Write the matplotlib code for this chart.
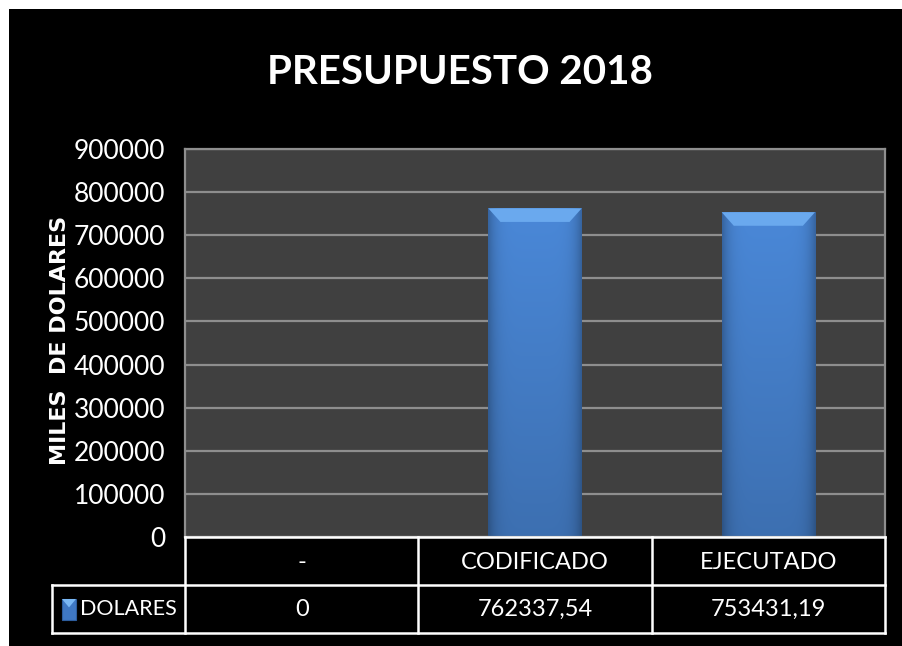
import numpy as np
import matplotlib
matplotlib.use("Agg")
import matplotlib.pyplot as plt
from matplotlib.patches import Rectangle, Polygon
from matplotlib.lines import Line2D

# data
categories = ["-", "CODIFICADO", "EJECUTADO"]
values = [0, 762337.54, 753431.19]
series_name = "DOLARES"
title = "PRESUPUESTO 2018"
ylabel = "MILES  DE DOLARES"
yticks = [0, 100000, 200000, 300000, 400000, 500000, 600000, 700000, 800000, 900000]

plt.rcParams['font.family'] = ['Lato', 'DejaVu Sans']

W, H = 903, 646
fig = plt.figure(figsize=(W / 100, H / 100), dpi=100, facecolor="white")

# black chart area
fig.patches.append(Rectangle((9 / W, 0), 1 - 9 / W, (H - 9) / H,
                             transform=fig.transFigure, facecolor="black",
                             edgecolor="none", zorder=-5))

ax = fig.add_axes([185 / W, (H - 537) / H, 700 / W, 388 / H], zorder=2)
ax.set_facecolor("#404040")
ax.set_xlim(-0.5, len(categories) - 0.5)
ax.set_ylim(0, 900000)
ax.set_yticks(yticks)
ax.set_yticklabels([str(t) for t in yticks])
ax.set_xticks([])
ax.tick_params(axis="y", length=0, pad=14, labelsize=19, labelcolor="white")
ax.grid(axis="y", color="#8e8e8e", lw=1.6)
ax.set_axisbelow(True)
for s in ax.spines.values():
    s.set_color("#8e8e8e")
    s.set_linewidth(1.6)

# bars with shaded fill and a light top bevel
bw = 0.4
bars = ax.bar(range(len(categories)), values, width=bw, color="none", zorder=2)
nx, ny = 60, 200
xs = np.linspace(-1, 1, nx)
ys = np.linspace(1, 0, ny)
side = 1 - 0.25 * np.abs(xs) ** 6
vert = 0.82 + 0.18 * ys
top_c = np.array([74, 136, 216]) / 255
shade = (vert[:, None, None] * side[None, :, None]) * top_c[None, None, :]
for b in bars:
    x0, y0, w, h = b.get_x(), b.get_y(), b.get_width(), b.get_height()
    if h <= 0:
        continue
    ax.imshow(np.clip(shade, 0, 1), extent=(x0, x0 + w, y0, y0 + h),
              aspect="auto", zorder=2, interpolation="bilinear")
    bev_x = w * 0.13
    bev_y = 900000 * 0.035
    ax.add_patch(Polygon([(x0, y0 + h), (x0 + w, y0 + h),
                          (x0 + w - bev_x, y0 + h - bev_y),
                          (x0 + bev_x, y0 + h - bev_y)],
                         closed=True, facecolor="#6aa9ee", edgecolor="none",
                         zorder=3))
ax.set_xlim(-0.5, len(categories) - 0.5)
ax.set_ylim(0, 900000)

# title and y label
fig.text(460 / W, (H - 73) / H, title, color="white", fontsize=29,
         fontweight="bold", ha="center", va="center")
fig.text(60 / W, (H - 340) / H, ylabel, color="white", fontsize=16,
         fontweight="bold", ha="center", va="center", rotation=90,
         family="DejaVu Sans")

# data table under the plot
tr = ax.get_xaxis_transform()
lw = 1.8
r_top, r_mid, r_bot = 0.0, -48 / 388, -96 / 388
px = 700 / len(categories)
lab_left = -0.5 - (185 - 52) / px
edges = [i - 0.5 for i in range(len(categories) + 1)]
kw = dict(color="white", lw=lw, transform=tr, clip_on=False, zorder=5)
ax.add_line(Line2D([edges[0], edges[-1]], [r_top, r_top], **kw))
ax.add_line(Line2D([lab_left, edges[-1]], [r_mid, r_mid], **kw))
ax.add_line(Line2D([lab_left, edges[-1]], [r_bot, r_bot], **kw))
ax.add_line(Line2D([lab_left, lab_left], [r_mid, r_bot], **kw))
for e in edges:
    ax.add_line(Line2D([e, e], [r_top, r_bot], **kw))


def fmt(v):
    if v == int(v):
        return str(int(v))
    return f"{v:.2f}".replace(".", ",")


for i, (c, v) in enumerate(zip(categories, values)):
    ax.text(i, (r_top + r_mid) / 2 - 0.005, c, transform=tr, color="white",
            fontsize=17, ha="center", va="center", clip_on=False)
    ax.text(i, (r_mid + r_bot) / 2, fmt(v), transform=tr, color="white",
            fontsize=17, ha="center", va="center", clip_on=False)

# legend key + series name
kx, ky, kw_, kh = lab_left + 10 / px, r_mid - 35 / 388, 14 / px, 21 / 388
ax.add_patch(Rectangle((kx, ky), kw_, kh, transform=tr, facecolor="#3f78c4",
                       edgecolor="#2d5d9e", lw=0.8, clip_on=False, zorder=6))
ax.add_patch(Polygon([(kx, ky + kh), (kx + kw_, ky + kh),
                      (kx + kw_ * 0.5, ky + kh * 0.6)], closed=True,
                     transform=tr, facecolor="#7ab8f5", edgecolor="none",
                     clip_on=False, zorder=7))
ax.text(lab_left + 28 / px, (r_mid + r_bot) / 2, series_name, transform=tr,
        color="white", fontsize=15.5, ha="left", va="center", clip_on=False)

fig.savefig("out.png", dpi=100, facecolor=fig.get_facecolor())
